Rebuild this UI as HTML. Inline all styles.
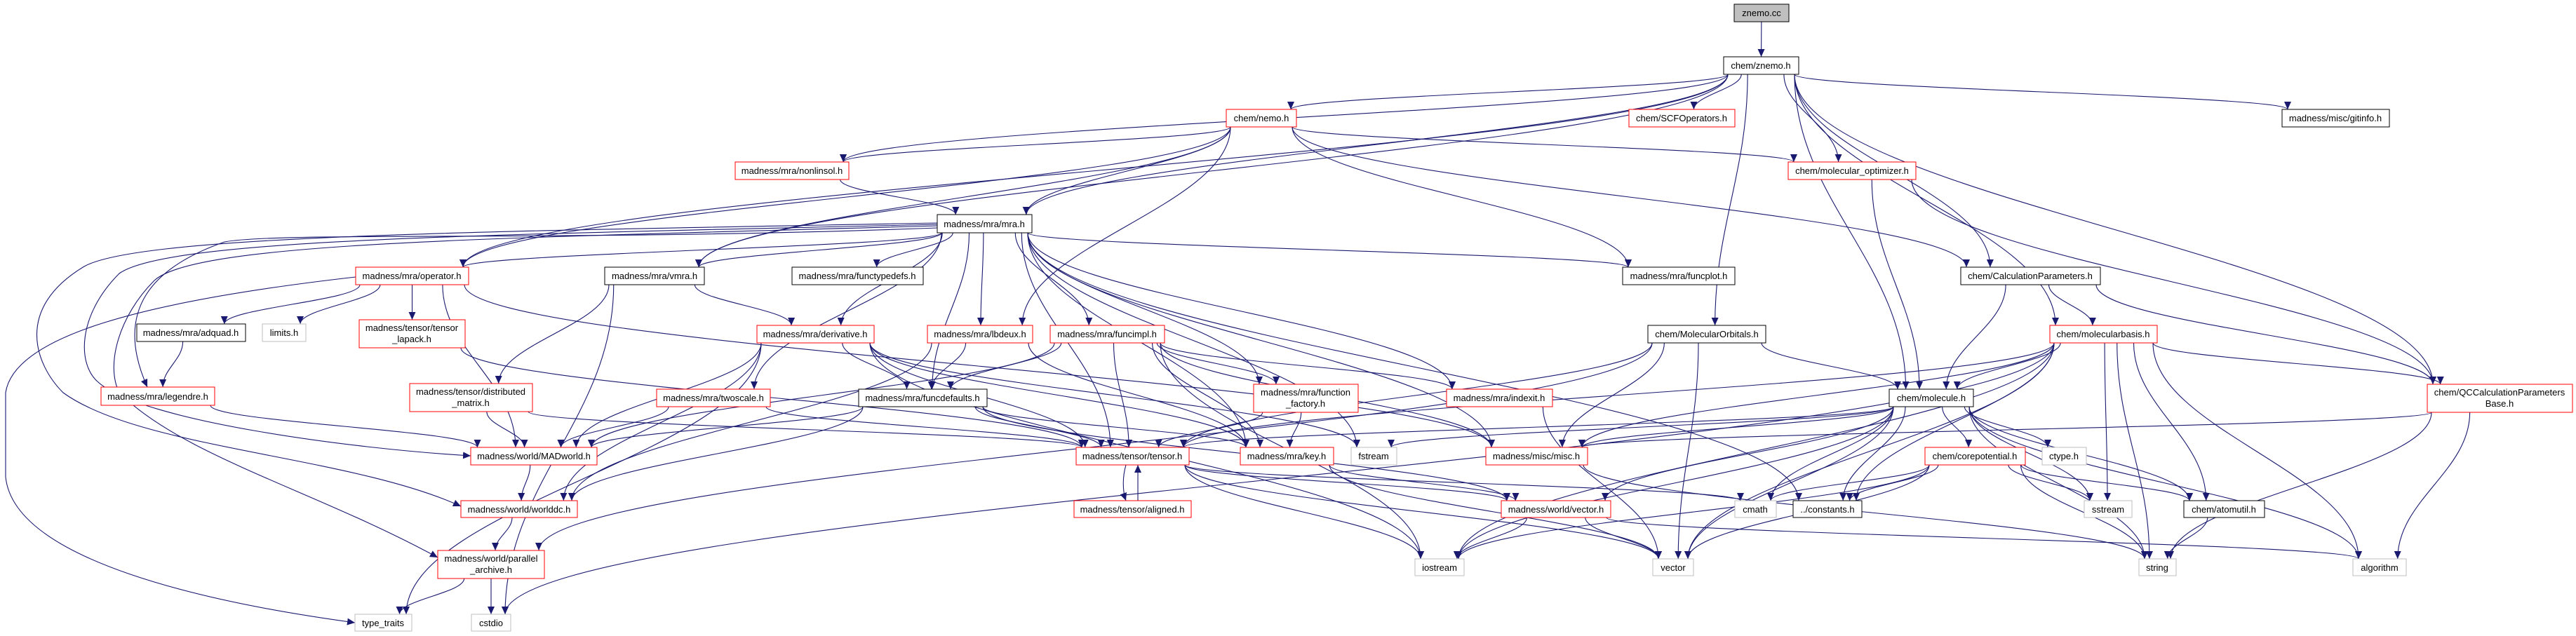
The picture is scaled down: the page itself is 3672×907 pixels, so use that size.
<!DOCTYPE html>
<html><head><meta charset="utf-8"><style>
html,body{margin:0;padding:0;background:#fff;}
svg{display:block;}
text{font-family:"Liberation Sans",Arial,sans-serif;font-size:13px;fill:#000;}
</style></head><body>
<svg id="g" width="3672" height="907" viewBox="0 0 3672 907" xmlns="http://www.w3.org/2000/svg">
<defs><marker id="a" markerUnits="userSpaceOnUse" markerWidth="12" markerHeight="10" refX="11" refY="5" orient="auto"><path d="M0,0 L11,5 L0,10 z" fill="#191970"/></marker></defs>
<g id="edges" fill="none" stroke="#191970" stroke-width="1.1">
<path marker-end="url(#a)" d="M1336,318 C700,330 200,335 120,380 C20,440 50,520 90,560 C200,640 500,650 657,722"/>
<path marker-end="url(#a)" d="M1336,320 C700,335 240,340 170,390 C110,450 110,520 140,545 C200,600 500,640 671,650"/>
<path marker-end="url(#a)" d="M1336,322 C700,340 280,345 220,400 C170,450 150,520 170,560 C260,650 450,700 624,795"/>
<path marker-end="url(#a)" d="M1336,325 C800,345 400,330 320,345 C220,380 160,440 210,552"/>
<path marker-end="url(#a)" d="M507,395 C200,430 20,480 8,560 L8,680 C20,800 300,860 506,888"/>
</g>
<g id="nodes">
<rect x="2472" y="6" width="78" height="25" fill="#bfbfbf" stroke="#000"/><text x="2511" y="23" text-anchor="middle">znemo.cc</text>
<rect x="2457" y="81" width="107" height="25" fill="#fff" stroke="#000"/><text x="2510" y="98" text-anchor="middle">chem/znemo.h</text>
<rect x="1748" y="156" width="100" height="25" fill="#fff" stroke="#f00"/><text x="1798" y="173" text-anchor="middle">chem/nemo.h</text>
<rect x="2322" y="156" width="151" height="25" fill="#fff" stroke="#f00"/><text x="2397" y="173" text-anchor="middle">chem/SCFOperators.h</text>
<rect x="3253" y="156" width="153" height="25" fill="#fff" stroke="#000"/><text x="3329" y="173" text-anchor="middle">madness/misc/gitinfo.h</text>
<rect x="1048" y="231" width="162" height="25" fill="#fff" stroke="#f00"/><text x="1129" y="248" text-anchor="middle">madness/mra/nonlinsol.h</text>
<rect x="2549" y="231" width="182" height="25" fill="#fff" stroke="#f00"/><text x="2640" y="248" text-anchor="middle">chem/molecular_optimizer.h</text>
<rect x="1336" y="306" width="135" height="26" fill="#fff" stroke="#000"/><text x="1403" y="324" text-anchor="middle">madness/mra/mra.h</text>
<rect x="507" y="381" width="161" height="25" fill="#fff" stroke="#f00"/><text x="587" y="398" text-anchor="middle">madness/mra/operator.h</text>
<rect x="862" y="381" width="142" height="25" fill="#fff" stroke="#000"/><text x="933" y="398" text-anchor="middle">madness/mra/vmra.h</text>
<rect x="1129" y="381" width="187" height="25" fill="#fff" stroke="#000"/><text x="1222" y="398" text-anchor="middle">madness/mra/functypedefs.h</text>
<rect x="2313" y="381" width="160" height="25" fill="#fff" stroke="#000"/><text x="2393" y="398" text-anchor="middle">madness/mra/funcplot.h</text>
<rect x="2795" y="381" width="199" height="25" fill="#fff" stroke="#000"/><text x="2894" y="398" text-anchor="middle">chem/CalculationParameters.h</text>
<rect x="195" y="462" width="155" height="25" fill="#fff" stroke="#000"/><text x="272" y="479" text-anchor="middle">madness/mra/adquad.h</text>
<rect x="374" y="462" width="62" height="25" fill="#fff" stroke="#bfbfbf"/><text x="405" y="479" text-anchor="middle">limits.h</text>
<rect x="512" y="456" width="151" height="40" fill="#fff" stroke="#f00"/><text x="587" y="472" text-anchor="middle">madness/tensor/tensor</text><text x="587" y="488" text-anchor="middle">_lapack.h</text>
<rect x="1079" y="464" width="167" height="25" fill="#fff" stroke="#f00"/><text x="1162" y="481" text-anchor="middle">madness/mra/derivative.h</text>
<rect x="1322" y="464" width="150" height="25" fill="#fff" stroke="#f00"/><text x="1397" y="481" text-anchor="middle">madness/mra/lbdeux.h</text>
<rect x="1497" y="464" width="163" height="25" fill="#fff" stroke="#f00"/><text x="1578" y="481" text-anchor="middle">madness/mra/funcimpl.h</text>
<rect x="2349" y="464" width="168" height="25" fill="#fff" stroke="#000"/><text x="2433" y="481" text-anchor="middle">chem/MolecularOrbitals.h</text>
<rect x="2922" y="464" width="153" height="25" fill="#fff" stroke="#f00"/><text x="2998" y="481" text-anchor="middle">chem/molecularbasis.h</text>
<rect x="144" y="552" width="162" height="26" fill="#fff" stroke="#f00"/><text x="225" y="570" text-anchor="middle">madness/mra/legendre.h</text>
<rect x="584" y="547" width="175" height="40" fill="#fff" stroke="#f00"/><text x="671" y="563" text-anchor="middle">madness/tensor/distributed</text><text x="671" y="579" text-anchor="middle">_matrix.h</text>
<rect x="936" y="555" width="162" height="25" fill="#fff" stroke="#f00"/><text x="1017" y="572" text-anchor="middle">madness/mra/twoscale.h</text>
<rect x="1224" y="555" width="183" height="25" fill="#fff" stroke="#000"/><text x="1315" y="572" text-anchor="middle">madness/mra/funcdefaults.h</text>
<rect x="1787" y="548" width="149" height="40" fill="#fff" stroke="#f00"/><text x="1861" y="564" text-anchor="middle">madness/mra/function</text><text x="1861" y="580" text-anchor="middle">_factory.h</text>
<rect x="2062" y="555" width="151" height="25" fill="#fff" stroke="#f00"/><text x="2137" y="572" text-anchor="middle">madness/mra/indexit.h</text>
<rect x="2693" y="555" width="120" height="25" fill="#fff" stroke="#000"/><text x="2753" y="572" text-anchor="middle">chem/molecule.h</text>
<rect x="3460" y="548" width="207" height="40" fill="#fff" stroke="#f00"/><text x="3563" y="564" text-anchor="middle">chem/QCCalculationParameters</text><text x="3563" y="580" text-anchor="middle">Base.h</text>
<rect x="671" y="638" width="180" height="25" fill="#fff" stroke="#f00"/><text x="761" y="655" text-anchor="middle">madness/world/MADworld.h</text>
<rect x="1534" y="638" width="161" height="25" fill="#fff" stroke="#f00"/><text x="1614" y="655" text-anchor="middle">madness/tensor/tensor.h</text>
<rect x="1768" y="638" width="133" height="25" fill="#fff" stroke="#f00"/><text x="1834" y="655" text-anchor="middle">madness/mra/key.h</text>
<rect x="1926" y="638" width="65" height="25" fill="#fff" stroke="#bfbfbf"/><text x="1958" y="655" text-anchor="middle">fstream</text>
<rect x="2118" y="638" width="145" height="25" fill="#fff" stroke="#f00"/><text x="2190" y="655" text-anchor="middle">madness/misc/misc.h</text>
<rect x="2744" y="638" width="143" height="25" fill="#fff" stroke="#f00"/><text x="2815" y="655" text-anchor="middle">chem/corepotential.h</text>
<rect x="2911" y="638" width="63" height="25" fill="#fff" stroke="#bfbfbf"/><text x="2942" y="655" text-anchor="middle">ctype.h</text>
<rect x="657" y="714" width="166" height="24" fill="#fff" stroke="#f00"/><text x="740" y="731" text-anchor="middle">madness/world/worlddc.h</text>
<rect x="1531" y="714" width="167" height="24" fill="#fff" stroke="#f00"/><text x="1614" y="731" text-anchor="middle">madness/tensor/aligned.h</text>
<rect x="2140" y="714" width="156" height="24" fill="#fff" stroke="#f00"/><text x="2218" y="731" text-anchor="middle">madness/world/vector.h</text>
<rect x="2473" y="714" width="59" height="24" fill="#fff" stroke="#bfbfbf"/><text x="2502" y="731" text-anchor="middle">cmath</text>
<rect x="2556" y="714" width="98" height="24" fill="#fff" stroke="#000"/><text x="2605" y="731" text-anchor="middle">../constants.h</text>
<rect x="2971" y="714" width="68" height="24" fill="#fff" stroke="#bfbfbf"/><text x="3005" y="731" text-anchor="middle">sstream</text>
<rect x="3113" y="714" width="115" height="24" fill="#fff" stroke="#000"/><text x="3170" y="731" text-anchor="middle">chem/atomutil.h</text>
<rect x="624" y="785" width="152" height="40" fill="#fff" stroke="#f00"/><text x="700" y="801" text-anchor="middle">madness/world/parallel</text><text x="700" y="817" text-anchor="middle">_archive.h</text>
<rect x="2017" y="797" width="70" height="24" fill="#fff" stroke="#bfbfbf"/><text x="2052" y="814" text-anchor="middle">iostream</text>
<rect x="2356" y="797" width="58" height="24" fill="#fff" stroke="#bfbfbf"/><text x="2385" y="814" text-anchor="middle">vector</text>
<rect x="3049" y="797" width="53" height="24" fill="#fff" stroke="#bfbfbf"/><text x="3075" y="814" text-anchor="middle">string</text>
<rect x="3354" y="797" width="76" height="24" fill="#fff" stroke="#bfbfbf"/><text x="3392" y="814" text-anchor="middle">algorithm</text>
<rect x="506" y="876" width="81" height="24" fill="#fff" stroke="#bfbfbf"/><text x="546" y="893" text-anchor="middle">type_traits</text>
<rect x="672" y="876" width="56" height="24" fill="#fff" stroke="#bfbfbf"/><text x="700" y="893" text-anchor="middle">cstdio</text>
</g>
</svg>
<script>
(function(){
var N={zcc:[2472,2550,6,31],zh:[2457,2564,81,106],nemo:[1748,1848,156,181],scf:[2322,2473,156,181],git:[3253,3406,156,181],
nonlin:[1048,1210,231,256],molopt:[2549,2731,231,256],mra:[1336,1471,306,332],oper:[507,668,381,406],vmra:[862,1004,381,406],
ftd:[1129,1316,381,406],fplot:[2313,2473,381,406],calc:[2795,2994,381,406],adquad:[195,350,462,487],limits:[374,436,462,487],
lapack:[512,663,456,496],deriv:[1079,1246,464,489],lbdeux:[1322,1472,464,489],fimpl:[1497,1660,464,489],molorb:[2349,2517,464,489],
mbasis:[2922,3075,464,489],legendre:[144,306,552,578],dmat:[584,759,547,587],twoscale:[936,1098,555,580],fdef:[1224,1407,555,580],
ffact:[1787,1936,548,588],indexit:[2062,2213,555,580],molecule:[2693,2813,555,580],qcc:[3460,3667,548,588],madw:[671,851,638,663],
tensor:[1534,1695,638,663],key:[1768,1901,638,663],fstream:[1926,1991,638,663],misc:[2118,2263,638,663],corepot:[2744,2887,638,663],
ctype:[2911,2974,638,663],worlddc:[657,823,714,738],aligned:[1531,1698,714,738],vech:[2140,2296,714,738],cmath:[2473,2532,714,738],
cnst:[2556,2654,714,738],sstream:[2971,3039,714,738],atomutil:[3113,3228,714,738],parch:[624,776,785,825],iostream:[2017,2087,797,821],
vector:[2356,2414,797,821],string:[3049,3102,797,821],algorithm:[3354,3430,797,821],tt:[506,587,876,900],cstdio:[672,728,876,900]};
var E="zcc>zh zh>nemo zh>scf zh>git zh>molopt zh>nonlin zh>mra zh>oper zh>vmra zh>calc zh>molorb zh>mbasis zh>molecule zh>qcc "+
"nemo>nonlin nemo>mra nemo>oper nemo>vmra nemo>lbdeux nemo>fplot nemo>calc nemo>molopt molopt>molecule molopt>qcc nonlin>mra "+
"mra>oper mra>vmra mra>ftd mra>fplot mra>deriv mra>lbdeux mra>fimpl mra>twoscale mra>ffact mra>indexit mra>fdef mra>tensor mra>key mra>misc mra>fstream mra>cnst "+
"oper>lapack oper>adquad oper>limits oper>misc oper>madw vmra>deriv vmra>dmat vmra>cstdio adquad>legendre legendre>madw lapack>tensor "+
"dmat>madw dmat>tensor deriv>fdef deriv>madw deriv>tensor deriv>key deriv>fstream deriv>worlddc deriv>iostream deriv>tt "+
"lbdeux>fdef lbdeux>worlddc lbdeux>key fimpl>fdef fimpl>tensor fimpl>ffact fimpl>key fimpl>misc fimpl>madw fimpl>iostream fimpl>indexit "+
"twoscale>madw twoscale>tensor ffact>tensor ffact>key indexit>vector fdef>madw fdef>tensor fdef>key fdef>worlddc fdef>vech "+
"madw>worlddc worlddc>parch parch>tt parch>cstdio tensor>aligned aligned>tensor tensor>vech tensor>vector tensor>iostream tensor>cmath "+
"key>vech key>vector misc>string vech>iostream vech>vector vech>algorithm molorb>molecule molorb>tensor molorb>vector molorb>parch molorb>misc "+
"calc>molecule calc>mbasis calc>qcc mbasis>molecule mbasis>algorithm mbasis>vector mbasis>string mbasis>sstream mbasis>atomutil mbasis>cnst mbasis>iostream mbasis>cstdio mbasis>tensor mbasis>misc mbasis>qcc "+
"molecule>corepot molecule>ctype molecule>sstream molecule>string molecule>atomutil molecule>algorithm molecule>vector molecule>iostream molecule>cmath molecule>cnst molecule>vech molecule>misc molecule>tensor molecule>fstream "+
"corepot>cnst corepot>cmath corepot>sstream corepot>string corepot>atomutil corepot>vector corepot>iostream atomutil>string qcc>string qcc>algorithm qcc>misc";
var g=document.getElementById('edges'),ns="http://www.w3.org/2000/svg";
function cl(v,a,b){return Math.max(a,Math.min(b,v));}
E.split(/\s+/).forEach(function(e){if(!e)return;var p=e.split('>'),s=N[p[0]],t=N[p[1]];if(!s||!t)return;
var scx=(s[0]+s[1])/2,tcx=(t[0]+t[1])/2,d;
if(t[2]>s[3]+2){var sx=cl(scx+(tcx-scx)*0.25,s[0]+6,s[1]-6),ex=cl(tcx+(scx-tcx)*0.15,t[0]+8,t[1]-8),sy=s[3],ey=t[2],dy=ey-sy;
d="M"+sx+","+sy+" C"+sx+","+(sy+dy*0.4)+" "+ex+","+(ey-dy*0.4)+" "+ex+","+ey;}
else if(t[3]<s[2]-2){var sx=cl(scx+(tcx-scx)*0.25,s[0]+6,s[1]-6),ex=cl(tcx+(scx-tcx)*0.15,t[0]+8,t[1]-8),sy=s[2],ey=t[3],dy=sy-ey;
if(p[0]=='aligned'){sx=1622;ex=1622;}
d="M"+sx+","+sy+" C"+sx+","+(sy-dy*0.4)+" "+ex+","+(ey+dy*0.4)+" "+ex+","+ey;}
else{var sy=(s[2]+s[3])/2,ey=(t[2]+t[3])/2,sx,ex;if(tcx>scx){sx=s[1];ex=t[0];}else{sx=s[0];ex=t[1];}
d="M"+sx+","+sy+" C"+((sx+ex)/2)+","+sy+" "+((sx+ex)/2)+","+ey+" "+ex+","+ey;}
if(p[0]=='tensor'&&p[1]=='aligned'){d="M1605,663 C1600,680 1600,700 1605,714";}
var el=document.createElementNS(ns,'path');el.setAttribute('d',d);el.setAttribute('marker-end','url(#a)');g.appendChild(el);});
})();
</script>
</body></html>
